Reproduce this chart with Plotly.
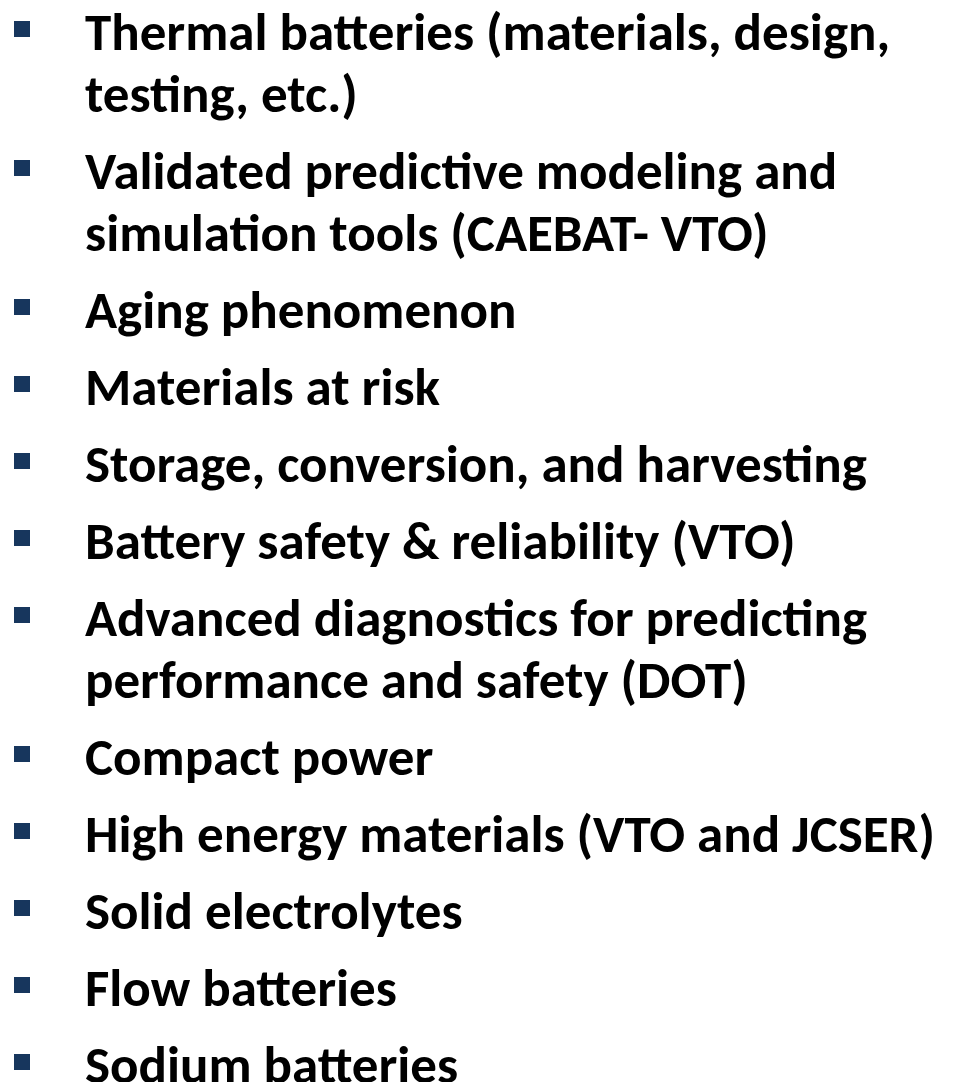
import plotly.graph_objects as go

# Bullet items (each item is a list of its wrapped lines)
items = [
    ["Thermal batteries (materials, design,", "testing, etc.)"],
    ["Validated predictive modeling and", "simulation tools (CAEBAT- VTO)"],
    ["Aging phenomenon"],
    ["Materials at risk"],
    ["Storage, conversion, and harvesting"],
    ["Battery safety & reliability (VTO)"],
    ["Advanced diagnostics for predicting", "performance and safety (DOT)"],
    ["Compact power"],
    ["High energy materials (VTO and JCSER)"],
    ["Solid electrolytes"],
    ["Flow batteries"],
    ["Sodium batteries"],
]

W, H = 955, 1082
PAGE_OFF = 8  # default body margin of the html page
first_y = 29
item_gap = 77
line_gap = 62
bullet_x = 22
text_x = 83
text_dy = 3
font_size = 53
bullet_color = "#17365D"

bullet_ys = []
line_entries = []
y = first_y
for lines in items:
    bullet_ys.append(y)
    for k, ln in enumerate(lines):
        line_entries.append((y + k * line_gap, ln))
    y += (len(lines) - 1) * line_gap + item_gap

fig = go.Figure()
fig.add_trace(go.Scatter(
    x=[bullet_x] * len(bullet_ys), y=bullet_ys, mode="markers",
    marker=dict(symbol="square", size=16, color=bullet_color, line=dict(width=0)),
    hoverinfo="skip", showlegend=False,
))
for ly, ln in line_entries:
    fig.add_annotation(
        x=text_x, y=ly + text_dy, text="<b>" + ln.replace("&", "&amp;") + "</b>",
        showarrow=False, xanchor="left", yanchor="middle",
        font=dict(family="Carlito, Lato, sans-serif", size=font_size, color="#000000"),
    )

fig.update_layout(
    width=W, height=H, margin=dict(l=0, r=0, t=0, b=0),
    paper_bgcolor="white", plot_bgcolor="white",
    xaxis=dict(range=[PAGE_OFF, W + PAGE_OFF], visible=False, fixedrange=True),
    yaxis=dict(range=[H + PAGE_OFF, PAGE_OFF], visible=False, fixedrange=True),
)
fig.write_html("out.html")
